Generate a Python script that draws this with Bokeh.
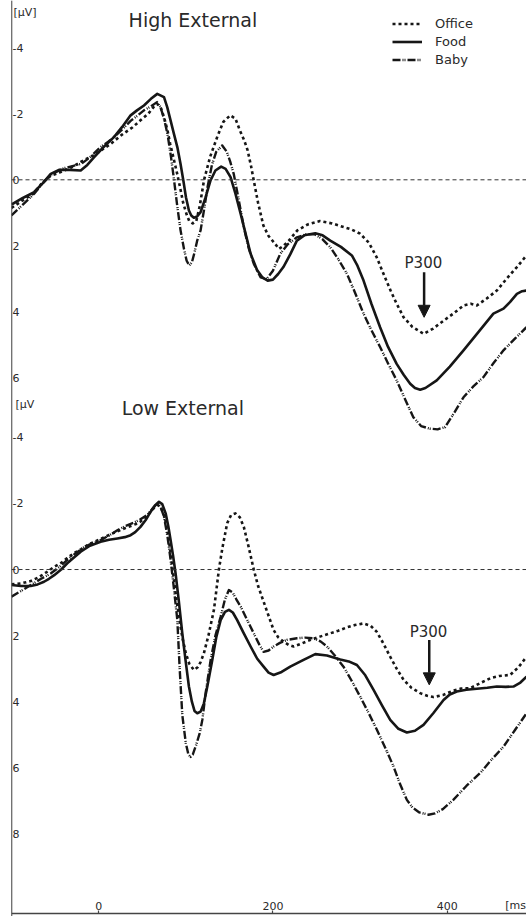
from bokeh.plotting import figure
from bokeh.models import (Range1d, LinearAxis, FixedTicker, Span, Label, Arrow, NormalHead,
                          Legend, LegendItem)
from bokeh.embed import file_html
from bokeh.resources import INLINE

# ---------------- data ----------------
series_names = ["Office", "Food", "Baby"]
panel_titles = ["High External", "Low External"]

# High External panel (µV, negative plotted up)
high_office_ms = [-100, -87, -75, -65, -55, -45, -33, -20, -5, 14, 26, 39, 48, 57, 63, 67, 71, 75, 79, 82,
                  86, 90, 94, 97, 101, 104, 108, 112, 116, 121, 128, 136, 143, 151, 157, 162, 167, 171,
                  175, 178, 183, 189, 195, 201, 207, 212, 218, 228, 240, 254, 268, 281, 290, 300, 310,
                  319, 327, 335, 342, 350, 360, 373, 384, 396, 407, 419, 427, 434, 445, 457, 468, 480, 491]
high_office_uv = [0.85, 0.62, 0.42, 0.1, -0.12, -0.22, -0.35, -0.55, -0.75, -1.09, -1.35, -1.59, -1.8, -2.0,
                  -2.2, -2.3, -2.2, -1.9, -1.5, -1.1, -0.65, -0.2, 0.3, 0.7, 1.05, 1.25, 1.32, 1.25, 0.8,
                  0.0, -0.7, -1.29, -1.75, -1.95, -1.85, -1.5, -1.2, -0.89, -0.4, 0.02, 0.7, 1.38, 1.7,
                  1.89, 2.09, 2.0, 1.85, 1.53, 1.35, 1.25, 1.32, 1.43, 1.5, 1.63, 1.9, 2.34, 2.85, 3.35,
                  3.75, 4.16, 4.45, 4.66, 4.5, 4.26, 4.05, 3.80, 3.75, 3.80, 3.6, 3.35, 3.0, 2.64, 2.29]

high_food_ms = [-100, -87, -74, -64, -55, -45.5, -33, -20.6, -13, -5.4, 6, 17.6, 27, 36.7, 44, 52, 60, 67.3,
                75, 78.7, 82.6, 86.4, 90.3, 94, 97.2, 100.2, 103.6, 106.3, 109.3, 113, 117, 122.7, 128.4,
                134, 140.6, 145.7, 151.4, 157, 163, 168.6, 174.4, 182, 187.8, 194, 200, 206, 212, 220,
                227.5, 236, 248.6, 257, 265.8, 278, 290.6, 297, 304, 313, 323, 332, 342, 350, 357.5, 363,
                369, 375, 388, 403, 418.7, 436, 453, 464.6, 472, 480, 486, 491]
high_food_uv = [0.75, 0.55, 0.37, 0.1, -0.18, -0.30, -0.3, -0.28, -0.45, -0.68, -1.0, -1.29, -1.6, -1.95,
                -2.1, -2.25, -2.45, -2.60, -2.50, -2.2, -1.79, -1.39, -0.99, -0.48, 0.02, 0.53, 0.93, 1.08,
                1.15, 1.11, 0.98, 0.53, 0.02, -0.28, -0.40, -0.33, -0.08, 0.42, 1.03, 1.63, 2.24, 2.74,
                2.95, 3.05, 3.02, 2.85, 2.64, 2.25, 1.84, 1.68, 1.62, 1.68, 1.84, 2.03, 2.29, 2.6, 3.05,
                3.75, 4.46, 5.05, 5.57, 5.9, 6.17, 6.3, 6.35, 6.3, 6.07, 5.65, 5.16, 4.6, 4.05, 3.90, 3.7,
                3.45, 3.37, 3.35]

high_baby_ms = [-100, -87, -74, -64, -55, -40, -20, -9, 2, 11, 20, 28, 37, 45, 52, 60, 67, 71, 75, 79, 83,
                86.5, 90, 94, 98, 101, 104, 107, 110, 113, 117, 121, 125, 130, 135, 141.8, 147, 151, 155,
                160, 166.6, 172, 178, 185.8, 193, 200, 208.4, 217, 227.5, 238, 248, 257, 265.8, 275, 285,
                294, 304, 313, 323, 332, 342, 351, 361, 370, 380, 389, 397.7, 408, 418.7, 430, 441.6, 453,
                464.6, 478, 491]
high_baby_uv = [1.08, 0.75, 0.42, 0.1, -0.15, -0.35, -0.48, -0.7, -0.99, -1.15, -1.35, -1.55, -1.79, -1.95,
                -2.10, -2.22, -2.35, -2.2, -1.85, -1.39, -0.7, 0.0, 0.75, 1.53, 2.1, 2.45, 2.59, 2.5, 2.2,
                1.85, 1.53, 0.9, 0.22, -0.45, -0.85, -1.04, -0.85, -0.55, -0.18, 0.5, 1.43, 2.05, 2.54,
                2.95, 3.0, 2.75, 2.24, 1.95, 1.74, 1.65, 1.65, 1.8, 2.04, 2.4, 2.85, 3.4, 4.05, 4.55, 5.06,
                5.55, 6.07, 6.6, 7.18, 7.45, 7.53, 7.55, 7.48, 7.05, 6.58, 6.25, 5.97, 5.55, 5.16, 4.8,
                4.46]

# Low External panel
low_office_ms = [-100, -89, -78, -70, -62, -51, -43, -36, -28, -20, -10, 2, 12, 21, 30, 37, 43, 48, 55, 60,
                 64, 68, 72, 76, 80, 85, 88, 92, 96, 100, 104, 109.3, 114, 117, 120.8, 126, 132.3, 135, 138,
                 142, 147.5, 152, 157, 162, 166.6, 172, 178, 183, 189.3, 195, 200.8, 206, 212.2, 218, 223.7,
                 233, 242.8, 254, 265.8, 275, 285, 294, 304, 312, 319, 326, 334.6, 342, 350, 359, 369, 377,
                 384.3, 395, 407.3, 416, 426.4, 437, 449.4, 460, 472.3, 482, 491]
low_office_uv = [0.45, 0.42, 0.35, 0.25, 0.12, -0.08, -0.2, -0.35, -0.5, -0.62, -0.78, -0.92, -1.05, -1.15,
                 -1.25, -1.32, -1.38, -1.45, -1.6, -1.75, -1.88, -1.95, -1.85, -1.55, -1.0, 0.0, 0.65, 1.4,
                 2.05, 2.53, 2.85, 3.04, 2.95, 2.8, 2.53, 2.0, 1.22, 0.65, 0.0, -0.65, -1.40, -1.65, -1.70,
                 -1.58, -1.29, -0.7, 0.0, 0.5, 0.97, 1.4, 1.83, 2.05, 2.18, 2.28, 2.33, 2.24, 2.13, 2.03,
                 1.93, 1.85, 1.75, 1.68, 1.63, 1.7, 1.88, 2.2, 2.64, 3.0, 3.34, 3.58, 3.74, 3.82, 3.86,
                 3.8, 3.66, 3.6, 3.59, 3.45, 3.29, 3.22, 3.19, 2.95, 2.64]

low_food_ms = [-100, -89, -78, -70, -62.7, -57, -51, -43, -36, -28, -20.6, -10, 2.3, 12, 21.5, 30, 36.7, 42,
               48, 54, 59.7, 65, 69.2, 73, 76.9, 80, 82.6, 85.5, 88.3, 92, 96, 100, 103.6, 107, 110, 113.2,
               117, 120.8, 125, 130.4, 135, 140, 145, 149.5, 154, 159, 166, 174.4, 182, 189.3, 195, 200.8,
               210, 219.9, 234, 248.6, 262, 277.3, 287, 296.4, 306, 315.5, 325, 334.6, 344, 353.7, 363,
               372.8, 384, 395.8, 403, 411, 422, 434, 446, 457, 467, 476, 484, 491]
low_food_uv = [0.47, 0.5, 0.50, 0.45, 0.37, 0.28, 0.17, 0.0, -0.19, -0.37, -0.54, -0.72, -0.84, -0.9, -0.94,
               -0.98, -1.04, -1.13, -1.29, -1.5, -1.75, -1.95, -2.05, -1.98, -1.70, -1.3, -0.89, -0.4, 0.12,
               0.95, 1.93, 2.8, 3.54, 4.0, 4.28, 4.35, 4.3, 4.05, 3.5, 2.74, 2.05, 1.53, 1.28, 1.22, 1.3,
               1.53, 1.9, 2.33, 2.7, 2.94, 3.12, 3.19, 3.1, 2.94, 2.75, 2.56, 2.6, 2.72, 2.78, 2.89, 3.2,
               3.64, 4.1, 4.55, 4.82, 4.93, 4.88, 4.70, 4.35, 3.95, 3.78, 3.69, 3.64, 3.61, 3.58, 3.54,
               3.55, 3.54, 3.42, 3.24]

low_baby_ms = [-100, -89, -78, -66, -55, -45, -36, -26, -17, -7, 2.3, 12, 21.5, 31, 40.5, 48, 55.8, 62, 67.3,
               71, 75, 79, 82.6, 86.5, 90.3, 93, 96, 100, 103, 105.5, 108, 112, 116, 119, 123, 128.5, 134,
               140, 145, 149.5, 154, 158, 163, 170, 178, 184, 189.3, 195, 200.8, 208, 216, 227.5, 237,
               246.6, 255, 262, 271, 281, 290, 300.2, 310, 319.3, 329, 338.4, 346, 353.7, 360, 368, 378.6,
               386, 395, 407, 422, 437.8, 451, 464.6, 478, 491]
low_baby_uv = [0.82, 0.65, 0.47, 0.28, 0.12, -0.08, -0.29, -0.5, -0.67, -0.8, -0.89, -1.03, -1.19, -1.32,
               -1.42, -1.52, -1.65, -1.85, -2.0, -1.9, -1.60, -1.0, -0.29, 0.6, 1.53, 3.0, 4.4, 5.25, 5.6,
               5.67, 5.6, 5.3, 4.95, 4.55, 3.7, 2.74, 2.0, 1.43, 0.9, 0.62, 0.7, 0.9, 1.12, 1.5, 1.93,
               2.25, 2.49, 2.45, 2.33, 2.22, 2.13, 2.08, 2.06, 2.08, 2.18, 2.33, 2.6, 2.94, 3.35, 3.85,
               4.35, 4.85, 5.4, 5.96, 6.5, 6.97, 7.2, 7.35, 7.42, 7.38, 7.25, 6.97, 6.55, 6.16, 5.75,
               5.36, 4.85, 4.35]

# axes ticks
x_ticks = [0, 200, 400]
high_y_ticks = [-4, -2, 0, 2, 4, 6]
low_y_ticks = [-4, -2, 0, 2, 4, 6, 8]

# P300 annotation: label position and arrow (start -> end), per panel
p300_label_ms = [372.7, 378.6]
p300_label_uv = [2.53, 1.88]
p300_arrow_ms = [373.5, 379.4]
p300_arrow_start_uv = [2.80, 2.13]
p300_arrow_end_uv = [4.16, 3.49]

# ---------------- figure ----------------
INK = "#161616"
TXT = "#2a2a2a"
FONT = "DejaVu Sans"

p = figure(width=526, height=916, x_range=Range1d(-100, 491), y_range=Range1d(22.29, -5.425),
           x_axis_type=None, y_axis_type=None, toolbar_location=None, output_backend="svg",
           min_border=0, min_border_left=11, outline_line_color=None, background_fill_color="white",
           border_fill_color="white")
p.extra_y_ranges = {"low": Range1d(10.50, -17.22)}


def style_axis(ax, tick_out=0):
    ax.axis_line_color = "#444444"
    ax.axis_line_width = 1.3
    ax.major_tick_in = 0
    ax.major_tick_out = tick_out
    ax.major_tick_line_color = "#444444"
    ax.major_tick_line_width = 1.2
    ax.minor_tick_in = 0
    ax.minor_tick_out = 0
    ax.major_label_text_font = FONT
    ax.major_label_text_font_size = "11px"
    ax.major_label_text_color = TXT


yax_hi = LinearAxis(ticker=FixedTicker(ticks=high_y_ticks), fixed_location=-100,
                    major_label_overrides={t: str(t) for t in high_y_ticks})
style_axis(yax_hi)
yax_hi.major_label_standoff = 1
p.add_layout(yax_hi, "right")

yax_lo = LinearAxis(y_range_name="low", ticker=FixedTicker(ticks=low_y_ticks), fixed_location=-100,
                    major_label_overrides={t: str(t) for t in low_y_ticks})
style_axis(yax_lo)
yax_lo.major_label_standoff = 1
p.add_layout(yax_lo, "right")

xax = LinearAxis(y_range_name="low", ticker=FixedTicker(ticks=x_ticks), fixed_location=10.42,
                 major_label_overrides={t: str(t) for t in x_ticks})
style_axis(xax, tick_out=3)
xax.major_label_standoff = 1
p.add_layout(xax, "above")

# zero lines
p.add_layout(Span(location=0, dimension="width", line_color="#333333", line_width=1, line_dash="4 3"))
p.add_layout(Span(location=0, dimension="width", line_color="#333333", line_width=1, line_dash="4 3",
                  y_range_name="low"))

office_style = dict(line_color=INK, line_width=2.6, line_dash="3 3", line_cap="butt", line_join="round")
food_style = dict(line_color=INK, line_width=2.6, line_join="round")
baby_style = dict(line_color=INK, line_width=2.4, line_dash="8 2 1 1 1 2", line_cap="butt",
                  line_join="round")

r_ho = p.line(high_office_ms, high_office_uv, **office_style)
r_hf = p.line(high_food_ms, high_food_uv, **food_style)
r_hb = p.line(high_baby_ms, high_baby_uv, **baby_style)

p.line(low_office_ms, low_office_uv, y_range_name="low", **office_style)
p.line(low_food_ms, low_food_uv, y_range_name="low", **food_style)
p.line(low_baby_ms, low_baby_uv, y_range_name="low", **baby_style)

# titles and unit labels
p.add_layout(Label(x=34.4, y=-4.82, text=panel_titles[0], text_font=FONT, text_font_size="19px",
                   text_color=TXT, text_align="left", text_baseline="middle"))
p.add_layout(Label(x=26.4, y=-4.88, y_range_name="low", text=panel_titles[1], text_font=FONT,
                   text_font_size="19px", text_color=TXT, text_align="left", text_baseline="middle"))
p.add_layout(Label(x=-100, y=-5.05, x_offset=2, text="[µV]", text_font=FONT, text_font_size="11px",
                   text_color=TXT, text_align="left", text_baseline="middle"))
p.add_layout(Label(x=-100, y=-5.0, y_range_name="low", x_offset=4, text="[µV", text_font=FONT,
                   text_font_size="11px", text_color=TXT, text_align="left", text_baseline="middle"))
p.add_layout(Label(x=466.5, y=10.18, y_range_name="low", text="[ms", text_font=FONT,
                   text_font_size="11px", text_color=TXT, text_align="left", text_baseline="middle"))

# P300 labels and arrows
for i, rn in enumerate(["default", "low"]):
    p.add_layout(Label(x=p300_label_ms[i], y=p300_label_uv[i], y_range_name=rn, text="P300",
                       text_font=FONT, text_font_size="15px", text_color=TXT, text_align="center",
                       text_baseline="middle"))
    p.add_layout(Arrow(end=NormalHead(size=12, fill_color=INK, line_color=INK, line_width=1),
                       x_start=p300_arrow_ms[i], y_start=p300_arrow_start_uv[i],
                       x_end=p300_arrow_ms[i], y_end=p300_arrow_end_uv[i],
                       y_range_name=rn, line_color=INK, line_width=2.5))

legend = Legend(items=[LegendItem(label=series_names[0], renderers=[r_ho]),
                       LegendItem(label=series_names[1], renderers=[r_hf]),
                       LegendItem(label=series_names[2], renderers=[r_hb])],
                location=(381, 848), orientation="vertical", glyph_width=30, glyph_height=17,
                label_height=17, spacing=1, padding=0, margin=0, label_standoff=13,
                border_line_color=None, background_fill_alpha=0, label_text_font=FONT,
                label_text_font_size="13px", label_text_color=TXT)
p.add_layout(legend)

open("out.html", "w").write(file_html(p, INLINE))
